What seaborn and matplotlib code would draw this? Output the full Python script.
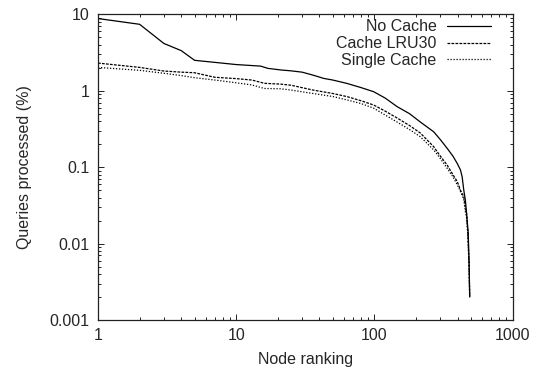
import numpy as np
import pandas as pd
import matplotlib
matplotlib.use("Agg")
import matplotlib.pyplot as plt
from matplotlib.ticker import LogLocator, FuncFormatter, NullFormatter
import seaborn as sns

# Data
no_cache_rank = [1, 2, 3, 4, 5, 7, 10, 15, 17, 21, 25, 30, 36, 43, 50, 63, 80, 99, 120,
                 146, 180, 215, 269, 300, 336, 370, 398, 420, 432, 444, 456, 470, 478, 485, 490]
no_cache_val = [8.8, 7.4, 4.15, 3.35, 2.5, 2.35, 2.2, 2.1, 1.96, 1.87, 1.82, 1.75, 1.6, 1.45,
                1.38, 1.25, 1.1, 0.97, 0.8, 0.62, 0.5, 0.39, 0.29, 0.23, 0.177, 0.14, 0.112,
                0.092, 0.075, 0.05, 0.037, 0.02, 0.0137, 0.006, 0.002]

lru_rank = [1, 2, 3, 4, 5, 7, 10, 13, 16, 21, 25, 36, 50, 63, 80, 99, 120, 146, 180, 215,
            269, 300, 336, 370, 398, 420, 444, 456, 465, 475, 485, 490]
lru_val = [2.3, 2.02, 1.81, 1.75, 1.72, 1.5, 1.44, 1.38, 1.25, 1.22, 1.18, 1.02, 0.92, 0.84,
           0.74, 0.65, 0.54, 0.44, 0.35, 0.28, 0.185, 0.14, 0.107, 0.08, 0.065, 0.05, 0.041,
           0.03, 0.025, 0.014, 0.005, 0.002]

single_rank = [1, 2, 3, 4, 5, 7, 10, 13, 16, 21, 25, 36, 50, 63, 80, 99, 120, 146, 180, 215,
               269, 300, 336, 370, 398, 420, 444, 456, 465, 475, 485, 490]
single_val = [2.02, 1.85, 1.69, 1.58, 1.48, 1.38, 1.27, 1.19, 1.07, 1.06, 1.02, 0.92, 0.84,
              0.76, 0.68, 0.59, 0.48, 0.39, 0.31, 0.25, 0.168, 0.13, 0.097, 0.075, 0.059,
              0.048, 0.038, 0.026, 0.022, 0.013, 0.005, 0.002]

labels = ["No Cache", "Cache LRU30", "Single Cache"]
x_ticks = [1, 10, 100, 1000]
y_ticks = [0.001, 0.01, 0.1, 1, 10]

sns.set_style("ticks")
plt.rcParams['font.family'] = ['Liberation Sans', 'DejaVu Sans']
plt.rcParams['font.size'] = 11.5

fig = plt.figure(figsize=(5.35, 3.70), dpi=100)
ax = fig.add_axes([98 / 535, 1 - 320 / 370, (512.5 - 98) / 535, (320 - 14.3) / 370])

series = [
    (no_cache_rank, no_cache_val, labels[0], dict(linestyle='-')),
    (lru_rank, lru_val, labels[1], dict(linestyle=(0, (2.2, 1.0)))),
    (single_rank, single_val, labels[2], dict(linestyle=(0, (1.0, 1.4)))),
]
for r, v, lab, st in series:
    df = pd.DataFrame({"rank": r, "val": v})
    sns.lineplot(data=df, x="rank", y="val", ax=ax, color="black", linewidth=0.9,
                 label=lab, sort=False, estimator=None, **st)

ax.set_xscale("log")
ax.set_yscale("log")
ax.set_xlim(1, 1000)
ax.set_ylim(0.001, 10)
ax.set_xticks(x_ticks)
ax.set_yticks(y_ticks)
fmt = FuncFormatter(lambda v, p: "%g" % v)
ax.xaxis.set_major_formatter(fmt)
ax.yaxis.set_major_formatter(fmt)
ax.xaxis.set_minor_locator(LogLocator(base=10, subs=np.arange(2, 10)))
ax.yaxis.set_minor_locator(LogLocator(base=10, subs=np.arange(2, 10)))
ax.xaxis.set_minor_formatter(NullFormatter())
ax.yaxis.set_minor_formatter(NullFormatter())
ax.tick_params(which='both', direction='in', top=True, right=True, color='#222222',
               width=0.7)
ax.tick_params(which='major', length=4, pad=6)
ax.tick_params(which='minor', length=2.2)
for s in ax.spines.values():
    s.set_linewidth(0.9)
    s.set_color('#222222')

ax.set_xlabel("Node ranking", labelpad=6.5)
ax.set_ylabel("Queries processed (%)", labelpad=13)

leg = ax.legend(loc='upper right', frameon=False, markerfirst=False, handlelength=2.75,
                labelspacing=0.12, handletextpad=0.68, borderaxespad=0.1,
                bbox_to_anchor=(0.968, 1.01))

fig.savefig("out.png", dpi=100)
